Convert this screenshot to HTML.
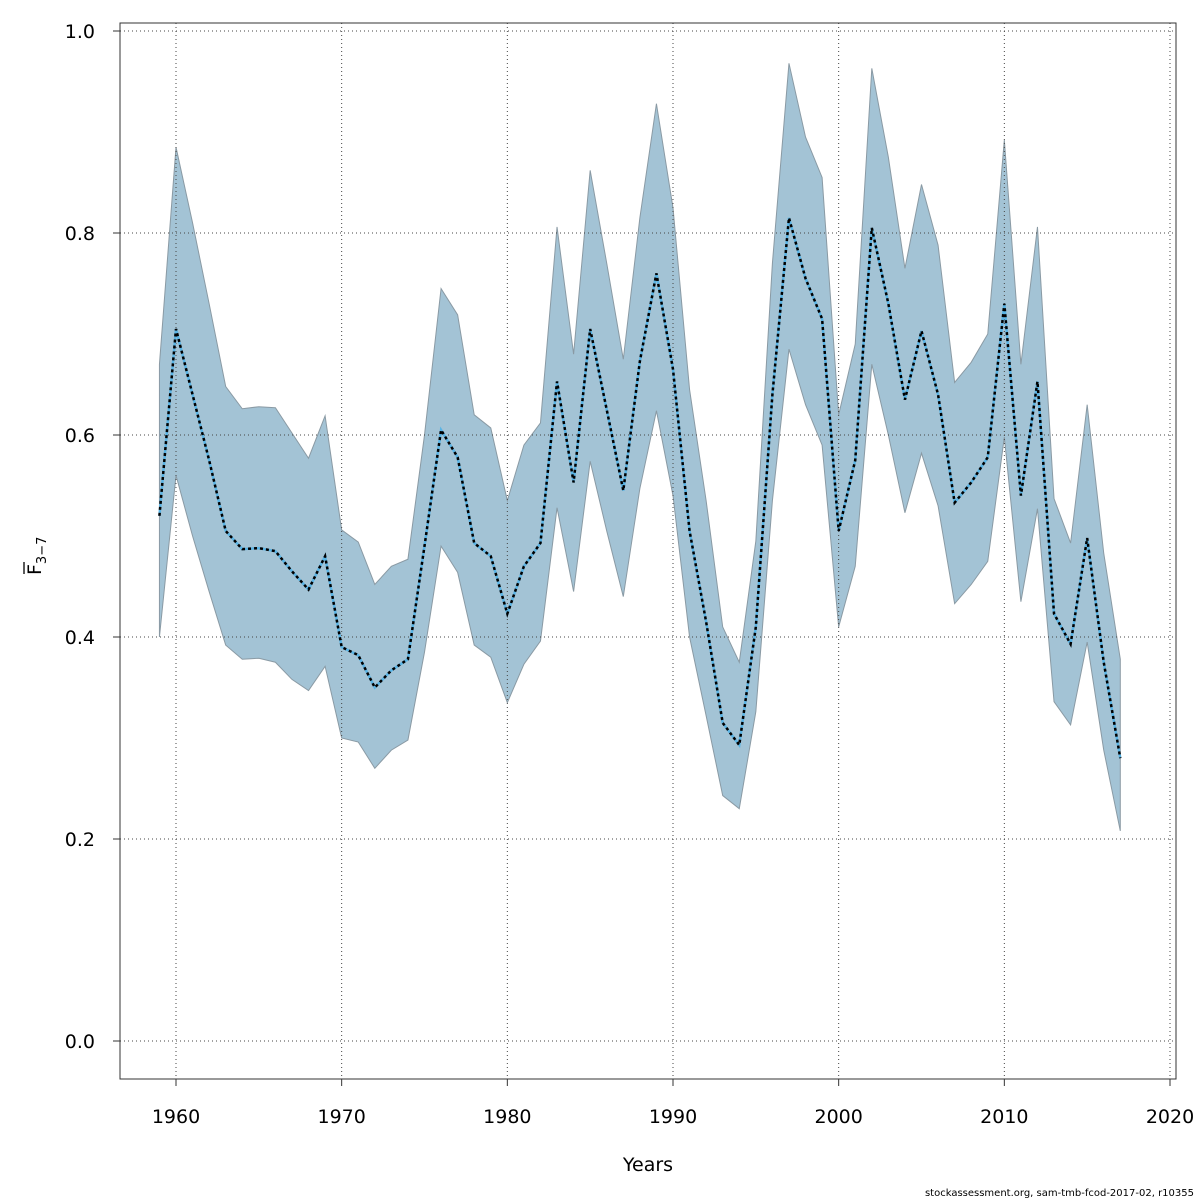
<!DOCTYPE html>
<html><head><meta charset="utf-8"><style>body{margin:0;background:#fff}svg{display:block}text{font-family:"DejaVu Sans","Liberation Sans",sans-serif}</style></head>
<body>
<svg id="chart" width="1200" height="1200" xmlns="http://www.w3.org/2000/svg"></svg>
<script>
const years=[1959,1960,1961,1962,1963,1964,1965,1966,1967,1968,1969,1970,1971,1972,1973,1974,1975,1976,1977,1978,1979,1980,1981,1982,1983,1984,1985,1986,1987,1988,1989,1990,1991,1992,1993,1994,1995,1996,1997,1998,1999,2000,2001,2002,2003,2004,2005,2006,2007,2008,2009,2010,2011,2012,2013,2014,2015,2016,2017];
const estimate=[0.52,0.705,0.64,0.575,0.505,0.487,0.488,0.485,0.465,0.447,0.48,0.39,0.382,0.35,0.367,0.378,0.49,0.605,0.578,0.493,0.48,0.423,0.47,0.493,0.653,0.553,0.705,0.625,0.545,0.673,0.76,0.665,0.505,0.415,0.315,0.293,0.41,0.64,0.815,0.755,0.715,0.505,0.575,0.805,0.73,0.635,0.703,0.64,0.533,0.553,0.578,0.73,0.54,0.653,0.423,0.393,0.498,0.375,0.28];
const lower=[0.40,0.56,0.50,0.445,0.392,0.378,0.379,0.375,0.358,0.347,0.371,0.30,0.296,0.27,0.288,0.298,0.385,0.49,0.464,0.392,0.38,0.335,0.373,0.396,0.528,0.445,0.574,0.505,0.44,0.547,0.624,0.54,0.40,0.322,0.243,0.23,0.326,0.535,0.685,0.63,0.59,0.41,0.47,0.67,0.6,0.523,0.582,0.53,0.433,0.452,0.475,0.598,0.435,0.527,0.336,0.313,0.395,0.288,0.208];
const upper=[0.67,0.885,0.81,0.73,0.648,0.626,0.628,0.627,0.602,0.577,0.619,0.506,0.494,0.452,0.47,0.477,0.60,0.745,0.719,0.62,0.607,0.535,0.59,0.612,0.806,0.68,0.862,0.77,0.675,0.815,0.928,0.825,0.645,0.535,0.41,0.375,0.495,0.77,0.968,0.895,0.855,0.62,0.69,0.963,0.875,0.765,0.848,0.788,0.652,0.672,0.70,0.892,0.67,0.806,0.537,0.493,0.63,0.483,0.378];
const xTicks=[1960,1970,1980,1990,2000,2010,2020];
const yTicks=[0.0,0.2,0.4,0.6,0.8,1.0];
const NS='http://www.w3.org/2000/svg';
const svg=document.getElementById('chart');
const X=v=>176+(v-1960)*(994/60);
const Y=v=>1041-v*1010;
function mk(tag,attrs,parent){const e=document.createElementNS(NS,tag);for(const k in attrs)e.setAttribute(k,attrs[k]);(parent||svg).appendChild(e);return e;}
// band
let pts=years.map((y,i)=>X(y)+','+Y(upper[i]));
for(let i=years.length-1;i>=0;i--)pts.push(X(years[i])+','+Y(lower[i]));
const band=mk('polygon',{points:pts.join(' '),fill:'#a3c3d5',stroke:'#8a9aa4','stroke-width':1});


// grid
xTicks.forEach(t=>{const g=mk('line',{x1:X(t),x2:X(t),y1:23,y2:1079,stroke:'#444','stroke-width':1,'stroke-dasharray':'1 3'});

});
yTicks.forEach(t=>{const g=mk('line',{x1:120,x2:1176,y1:Y(t),y2:Y(t),stroke:'#444','stroke-width':1,'stroke-dasharray':'1 3'});

});
// estimate line
const lp=years.map((y,i)=>X(y)+','+Y(estimate[i])).join(' ');
const l1=mk('polyline',{points:lp,fill:'none',stroke:'#5ab4e5','stroke-width':2.5});


const l2=mk('polyline',{points:lp,fill:'none',stroke:'#000','stroke-width':2.5,'stroke-dasharray':'3 3'});


// box
const box=mk('rect',{x:120,y:23,width:1056,height:1056,fill:'none',stroke:'#333','stroke-width':1});


// x axis
mk('line',{x1:X(1960),x2:X(2020),y1:1079,y2:1079,stroke:'#333'});
xTicks.forEach(t=>{mk('line',{x1:X(t),x2:X(t),y1:1079,y2:1086,stroke:'#333'});
const tx=mk('text',{x:X(t),y:1123,'font-size':19,'text-anchor':'middle'});tx.textContent=t;

});
// y axis
yTicks.forEach(t=>{mk('line',{x1:113,x2:120,y1:Y(t),y2:Y(t),stroke:'#333'});
const tx=mk('text',{x:95,y:Y(t)+7,'font-size':19,'text-anchor':'end'});tx.textContent=t.toFixed(1);

});
const xt=mk('text',{x:648,y:1171,'font-size':19,'text-anchor':'middle'});xt.textContent='Years';


const yt=mk('text',{x:0,y:0,'font-size':19,transform:'translate(41,575) rotate(-90)'});
yt.innerHTML='F<tspan font-size="13" dy="5">3−7</tspan>';


mk('line',{x1:24,x2:24,y1:574,y2:562,stroke:'#000','stroke-width':1.3});
const ft=mk('text',{x:1194,y:1196,'font-size':10,'text-anchor':'end'});ft.textContent='stockassessment.org, sam-tmb-fcod-2017-02, r10355';


</script>
</body></html>
